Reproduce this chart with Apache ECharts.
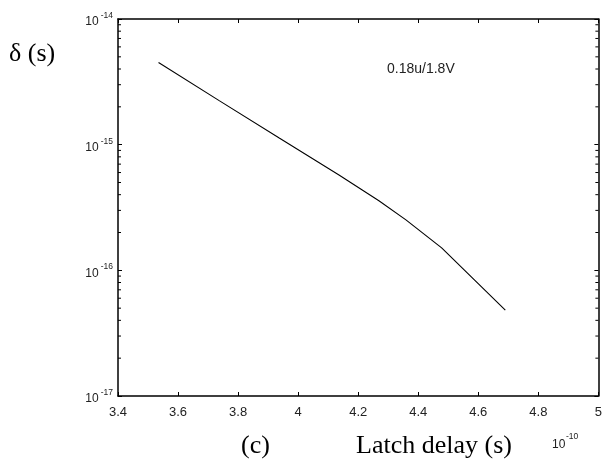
<!DOCTYPE html>
<html>
<head>
<meta charset="utf-8">
<script src="https://cdn.jsdelivr.net/npm/echarts@6/dist/echarts.min.js"></script>
<style>
html,body{margin:0;padding:0;background:#fff;}
#c{width:605px;height:460px;}
</style>
</head>
<body>
<div id="c"></div>
<script>
// Latch delay (units of 1e-10 s)
var latchDelay = [3.535, 3.737, 3.937, 4.136, 4.269, 4.359, 4.478, 4.690];
// delta (s)
var deltaValues = [4.51e-15, 2.24e-15, 1.13e-15, 5.74e-16, 3.58e-16, 2.52e-16, 1.51e-16, 4.83e-17];
var xTicks = [3.4, 3.6, 3.8, 4, 4.2, 4.4, 4.6, 4.8, 5];
var yDecades = [1e-17, 1e-16, 1e-15, 1e-14];
var minorMultipliers = [2, 3, 4, 5, 6, 7, 8, 9];
var annotation = '0.18u/1.8V';

var xMin = xTicks[0], xMax = xTicks[xTicks.length - 1];
var minorData = [];
for (var i = 0; i < yDecades.length - 1; i++) {
  for (var j = 0; j < minorMultipliers.length; j++) {
    minorData.push([xMin, yDecades[i] * minorMultipliers[j]]);
  }
}
var lineData = latchDelay.map(function (x, i) { return [x, deltaValues[i]]; });

var chart = echarts.init(document.getElementById('c'), null, {renderer: 'canvas'});
var axisLineStyle = {color: '#000', width: 1.5};
var tickStyle = {color: '#000', width: 1};

chart.setOption({
  animation: false,
  backgroundColor: '#fff',
  grid: {left: 118, top: 19, width: 482, height: 377, containLabel: false},
  xAxis: [{
    type: 'value', min: xMin, max: xMax, interval: 0.2, position: 'bottom',
    axisLine: {show: true, onZero: false, lineStyle: axisLineStyle},
    axisTick: {show: true, inside: true, length: 4, lineStyle: tickStyle},
    splitLine: {show: false},
    axisLabel: {color: '#222', fontFamily: 'Liberation Sans', fontSize: 13, margin: 10,
      formatter: function (v) { return String(Math.round(v * 10) / 10); }}
  }, {
    type: 'value', min: xMin, max: xMax, interval: 0.2, position: 'top',
    axisLine: {show: true, onZero: false, lineStyle: axisLineStyle},
    axisTick: {show: true, inside: true, length: 4, lineStyle: tickStyle},
    splitLine: {show: false},
    axisLabel: {show: false}
  }],
  yAxis: [{
    type: 'log', logBase: 10, min: yDecades[0], max: yDecades[yDecades.length - 1], splitNumber: 3,
    position: 'left',
    axisLine: {show: true, onZero: false, lineStyle: axisLineStyle},
    axisTick: {show: true, inside: true, length: 4, lineStyle: tickStyle},
    splitLine: {show: false},
    axisLabel: {margin: 5,
      formatter: function (v) {
        var e = Math.round(Math.log(v) / Math.LN10);
        return '{b|10}{s|' + e + '}';
      },
      rich: {
        b: {fontFamily: 'Liberation Sans', fontSize: 12, color: '#222', padding: [6, 0, 0, 0]},
        s: {fontFamily: 'Liberation Sans', fontSize: 8.5, color: '#222', padding: [0, 0, 7, 2]}
      }
    }
  }, {
    type: 'log', logBase: 10, min: yDecades[0], max: yDecades[yDecades.length - 1], splitNumber: 3,
    position: 'right',
    axisLine: {show: true, onZero: false, lineStyle: axisLineStyle},
    axisTick: {show: true, inside: true, length: 4, lineStyle: tickStyle},
    splitLine: {show: false},
    axisLabel: {show: false}
  }],
  series: [{
    type: 'line', xAxisIndex: 0, yAxisIndex: 0, data: lineData,
    showSymbol: false, symbol: 'none',
    lineStyle: {color: '#000', width: 1.1}
  }, {
    type: 'custom', xAxisIndex: 0, yAxisIndex: 0, data: minorData, clip: false,
    silent: true,
    renderItem: function (params, api) {
      var v = api.value(1);
      var pL = api.coord([xMin, v]);
      var pR = api.coord([xMax, v]);
      return {
        type: 'group',
        children: [
          {type: 'line', shape: {x1: pL[0], y1: pL[1], x2: pL[0] + 3, y2: pL[1]}, style: {stroke: '#000', lineWidth: 1}},
          {type: 'line', shape: {x1: pR[0] - 3, y1: pR[1], x2: pR[0], y2: pR[1]}, style: {stroke: '#000', lineWidth: 1}}
        ]
      };
    }
  }],
  graphic: [
    {type: 'text', left: 9, top: 41, style: {text: 'δ (s)', font: '26px "Liberation Serif"', fill: '#000'}},
    {type: 'text', left: 387, top: 62, style: {text: annotation, font: '14px "Liberation Sans"', fill: '#222'}},
    {type: 'text', left: 241, top: 433, style: {text: '(c)', font: '26px "Liberation Serif"', fill: '#000'}},
    {type: 'text', left: 356, top: 433, style: {text: 'Latch delay (s)', font: '26px "Liberation Serif"', fill: '#000'}},
    {type: 'text', left: 552, top: 439, style: {text: '10', font: '12px "Liberation Sans"', fill: '#222'}},
    {type: 'text', left: 566, top: 432, style: {text: '-10', font: '8.5px "Liberation Sans"', fill: '#222'}}
  ]
});
</script>
</body>
</html>
